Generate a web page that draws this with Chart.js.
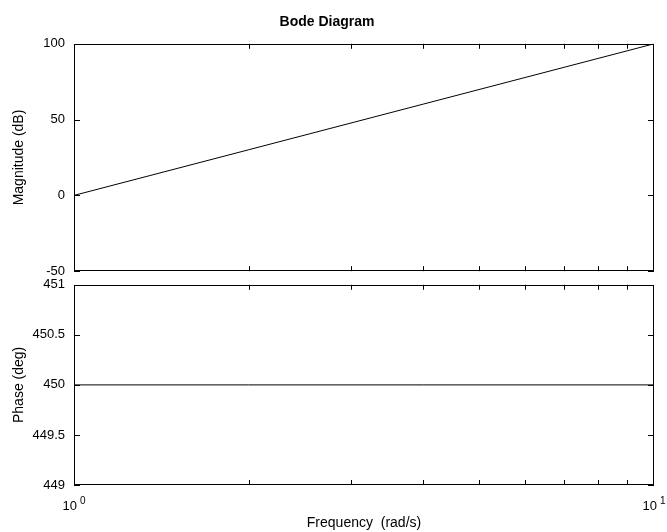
<!DOCTYPE html>
<html>
<head>
<meta charset="utf-8">
<script src="https://cdn.jsdelivr.net/npm/chart.js@4"></script>
<style>
  html, body { margin: 0; padding: 0; background: #fff; }
  #wrap { position: relative; width: 667px; height: 532px; }
  canvas { position: absolute; left: 0; }
  #mag { top: 0; }
  #phase { top: 268px; }
</style>
</head>
<body>
<div id="wrap">
  <canvas id="mag" width="667" height="288"></canvas>
  <canvas id="phase" width="667" height="264"></canvas>
</div>
<script>
// datos
const freq = [1, 2, 4, 10];
const magnitude = [0, 30.1, 60.2, 100];
const phase = [450, 450, 450, 450];
const minorTicks = [2, 3, 4, 5, 6, 7, 8, 9];
const xTickLabels = [1, 10];
const xTickExp = ['0', '1'];

Chart.defaults.font.family = '"Liberation Sans", Arial, sans-serif';
Chart.defaults.color = '#000';

// marco con marcas hacia adentro
const frame = {
  id: 'frame',
  afterDraw(chart) {
    const {ctx, chartArea: a, scales: {x, y}} = chart;
    ctx.save();
    ctx.strokeStyle = '#000';
    ctx.lineWidth = 1;
    ctx.strokeRect(Math.round(a.left) + 0.5, Math.round(a.top) + 0.5,
      Math.round(a.right - a.left) - 1, Math.round(a.bottom - a.top) - 1);
    ctx.beginPath();
    minorTicks.forEach(v => {
      const px = Math.round(x.getPixelForValue(v)) + 0.5;
      ctx.moveTo(px, a.top); ctx.lineTo(px, a.top + 5);
      ctx.moveTo(px, a.bottom); ctx.lineTo(px, a.bottom - 5);
    });
    y.ticks.forEach(t => {
      const py = Math.round(y.getPixelForValue(t.value)) + 0.5;
      ctx.moveTo(a.left, py); ctx.lineTo(a.left + 6, py);
      ctx.moveTo(a.right, py); ctx.lineTo(a.right - 6, py);
    });
    ctx.stroke();

    if (chart.options.plugins.frame && chart.options.plugins.frame.labels) {
      xTickLabels.forEach((v, i) => {
        const px = x.getPixelForValue(v);
        ctx.font = '13px "Liberation Sans", Arial, sans-serif';
        const w1 = ctx.measureText('10').width;
        ctx.font = '10px "Liberation Sans", Arial, sans-serif';
        const w2 = ctx.measureText(xTickExp[i]).width;
        const gap = 3;
        const start = px - (w1 + gap + w2) / 2;
        ctx.fillStyle = '#000';
        ctx.textBaseline = 'alphabetic';
        ctx.textAlign = 'left';
        ctx.font = '13px "Liberation Sans", Arial, sans-serif';
        ctx.fillText('10', start, a.bottom + 25);
        ctx.font = '10px "Liberation Sans", Arial, sans-serif';
        ctx.fillText(xTickExp[i], start + w1 + gap, a.bottom + 19);
      });
    }
    ctx.restore();
  }
};

function pares(ys) {
  return freq.map((f, i) => ({x: f, y: ys[i]}));
}

const chartMag = new Chart(document.getElementById('mag'), {
  type: 'line',
  data: {
    datasets: [{
      data: pares(magnitude),
      borderColor: '#000',
      borderWidth: 1,
      pointRadius: 0,
      tension: 0
    }]
  },
  options: {
    responsive: false,
    animation: false,
    layout: { padding: { top: 0, right: 13, bottom: 1, left: 0 } },
    plugins: {
      legend: { display: false },
      tooltip: { enabled: false },
      title: {
        display: true,
        text: 'Bode Diagram',
        font: { size: 14, weight: 'bold' },
        padding: { top: 14, bottom: 13 }
      }
    },
    scales: {
      x: {
        type: 'logarithmic',
        min: 1, max: 10,
        display: false
      },
      y: {
        min: -50, max: 100,
        afterFit(s) { s.width = 74; },
        ticks: { stepSize: 50, padding: 9, font: { size: 13 } },
        grid: { display: false, drawTicks: false },
        border: { display: false },
        title: { display: true, text: 'Magnitude (dB)', font: { size: 14 }, padding: { top: 11 } }
      }
    }
  },
  plugins: [frame]
});

const chartPhase = new Chart(document.getElementById('phase'), {
  type: 'line',
  data: {
    datasets: [{
      data: pares(phase),
      borderColor: '#000',
      borderWidth: 1,
      pointRadius: 0,
      tension: 0
    }]
  },
  options: {
    responsive: false,
    animation: false,
    layout: { padding: { top: 2, right: 13, bottom: 0, left: 0 } },
    plugins: {
      legend: { display: false },
      tooltip: { enabled: false },
      frame: { labels: true }
    },
    scales: {
      x: {
        type: 'logarithmic',
        min: 1, max: 10,
        afterFit(s) { s.height = 47; },
        ticks: { display: false },
        grid: { display: false, drawTicks: false },
        border: { display: false },
        title: { display: true, text: 'Frequency  (rad/s)', font: { size: 14 }, padding: { top: 0, bottom: 0 } }
      },
      y: {
        min: 449, max: 451,
        afterFit(s) { s.width = 74; },
        ticks: { stepSize: 0.5, padding: 9, font: { size: 13 }, callback: v => String(+v.toFixed(1)) },
        grid: { display: false, drawTicks: false },
        border: { display: false },
        title: { display: true, text: 'Phase (deg)', font: { size: 14 }, padding: { top: 11 } }
      }
    }
  },
  plugins: [frame]
});
</script>
</body>
</html>
